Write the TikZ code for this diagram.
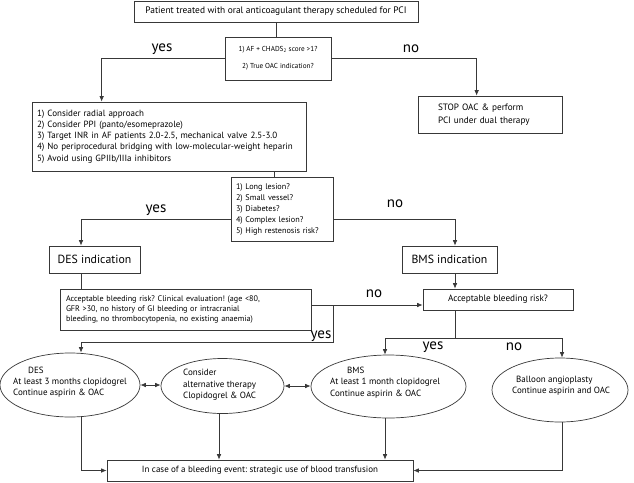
\documentclass[tikz,border=0pt]{standalone}
\usepackage{fontspec}
\setmainfont{PT Sans}
\usetikzlibrary{arrows.meta,shapes.geometric,calc}
\definecolor{lc}{gray}{0.22}
\frenchspacing
\begin{document}
\begin{tikzpicture}[x=1pt,y=-1pt]
\tikzset{
 bx/.style={draw=lc, line width=0.7pt, rectangle, inner ysep=0pt},
 ln/.style={draw=lc, line width=0.7pt},
 ar/.style={ln, -{Latex[length=5.5pt,width=4.5pt]}},
 dar/.style={ln, {Latex[length=5.5pt,width=4.5pt]}-{Latex[length=5.5pt,width=4.5pt]}},
 ell/.style={draw=lc, line width=0.7pt, ellipse, inner sep=0pt},
 lab/.style={inner sep=0pt, font=\fontsize{15}{16}\selectfont},
 etx/.style={anchor=west, align=left, inner sep=0pt, font=\fontsize{9}{11.3}\selectfont},
}
\useasboundingbox (0,0) rectangle (634,482);

\node[bx, minimum width=284pt, minimum height=21pt, font=\fontsize{9.4}{10}\selectfont] (top) at (276,11.5) {Patient treated with oral anticoagulant therapy scheduled for PCI};
\node[bx, minimum width=106pt, minimum height=43pt, align=center, font=\fontsize{7.2}{17}\selectfont] (q1) at (278,58.5) {1) AF + CHADS\textsubscript{2} score >1?\\2) True OAC indication?};
\node[bx, minimum width=274pt, minimum height=69pt, text width=264pt, inner xsep=5pt, align=left, font=\fontsize{9}{11.2}\selectfont] (list) at (169,136.5) {1) Consider radial approach\\2) Consider PPI (panto/esomeprazole)\\3) Target INR in AF patients 2.0-2.5, mechanical valve 2.5-3.0\\4) No periprocedural bridging with low-molecular-weight heparin\\5) Avoid using GPIIb/IIIa inhibitors};
\node[bx, minimum width=144pt, minimum height=37pt, text width=104pt, inner xsep=20pt, align=left, font=\fontsize{9.2}{13}\selectfont] (stop) at (490,114.5) {STOP OAC \& perform\\PCI under dual therapy};
\node[bx, minimum width=102pt, minimum height=64pt, text width=92pt, inner xsep=5pt, align=left, font=\fontsize{8.2}{11}\selectfont] (q2) at (282,209) {1) Long lesion?\\2) Small vessel?\\3) Diabetes?\\4) Complex lesion?\\5) High restenosis risk?};
\node[bx, minimum width=91pt, minimum height=27pt, font=\fontsize{11.8}{12}\selectfont] (desb) at (94.5,259.5) {DES indication};
\node[bx, minimum width=95pt, minimum height=27pt, font=\fontsize{11.8}{12}\selectfont] (bmsb) at (449.5,259.5) {BMS indication};
\node[bx, minimum width=251pt, minimum height=41pt, text width=239pt, inner xsep=6pt, align=left, font=\fontsize{8.1}{9.8}\selectfont] (bleed) at (185.5,309.5) {Acceptable bleeding risk? Clinical evaluation! (age <80,\\GFR >30, no history of GI bleeding or intracranial\\bleeding, no thrombocytopenia, no existing anaemia)};
\node[bx, minimum width=150pt, minimum height=21pt, font=\fontsize{9.2}{10}\selectfont] (acc) at (498,299.5) {Acceptable bleeding risk?};
\node[bx, minimum width=306pt, minimum height=21pt, font=\fontsize{9}{10}\selectfont] (bot) at (260,470.5) {In case of a bleeding event: strategic use of blood transfusion};

\node[ell, minimum width=140pt, minimum height=64pt] (desell) at (70,385) {};
\node[ell, minimum width=123pt, minimum height=55pt] (conell) at (222.5,386) {};
\node[ell, minimum width=155pt, minimum height=63pt] (bmsell) at (388.5,386.5) {};
\node[ell, minimum width=136pt, minimum height=64pt] (balell) at (560,390) {};
\node[etx] (destx) at (13,382) {\hspace*{15pt}DES\\At least 3 months clopidogrel\\Continue aspirin \& OAC};
\node[etx] (contx) at (183,385) {Consider\\alternative therapy\\Clopidogrel \& OAC};
\node[etx] (bmstx) at (330,382.5) {\hspace*{17pt}BMS\\At least 1 month clopidogrel\\Continue aspirin \& OAC};
\node[etx] (baltx) at (512,386) {\hspace*{4pt}Balloon angioplasty\\Continue aspirin and OAC};

% connectors
\draw[ln] (top.south) -- (top.south |- q1.north);
\coordinate (listin) at ([xshift=70pt]list.north west);
\draw[ar] (q1.west) -| (listin);
\coordinate (stopin) at ([xshift=59pt]stop.north west);
\draw[ar] (q1.east) -| (stopin);
\coordinate (q2in) at ([xshift=-8pt]q2.north);
\draw[ln] (q2in |- list.south) -- (q2in);
\coordinate (q2l) at ([yshift=-10pt]q2.west);
\coordinate (q2r) at ([yshift=-10pt]q2.east);
\coordinate (desbin) at ([xshift=-13.5pt]desb.north);
\draw[ar] (q2l) -| (desbin);
\coordinate (bmsbin) at ([xshift=5.5pt]bmsb.north);
\draw[ar] (q2r) -| (bmsbin);
\draw[ln] (desbin |- desb.south) -- (desbin |- bleed.north);
\coordinate (accbin) at ([xshift=-43pt]acc.north);
\draw[ar] (bmsbin |- bmsb.south) -- (accbin);
\coordinate (accin) at ([yshift=-5.5pt]acc.west);
\draw[ar] (accin -| bleed.east) -- (accin);
\coordinate (yb) at (333,305);
\coordinate (ybend) at (333,342);
\coordinate (desin) at ([xshift=11pt]desell.north);
\draw[ar] (yb) -- (ybend) -| (desin);
\coordinate (accout) at (accbin |- acc.south);
\coordinate (split) at (455,338);
\draw[ln] (accout) -- (split);
\coordinate (bmsin) at ([xshift=-3.5pt]bmsell.north);
\coordinate (balin) at ([xshift=2pt]balell.north);
\draw[ar] (split) -| (bmsin);
\draw[ar] (split) -| (balin);
\draw[dar] (desell.east) -- (desell.east -| conell.west);
\draw[dar] (conell.east) -- (conell.east -| bmsell.west);
\coordinate (desout) at ([xshift=11pt]desell.south);
\draw[ar] (desout) |- (bot.west);
\coordinate (conout) at ([xshift=-3.5pt]conell.south);
\draw[ar] (conout) -- (conout |- bot.north);
\coordinate (bmsout) at ([xshift=-3.5pt]bmsell.south);
\draw[ar] (bmsout) -- (bmsout |- bot.north);
\coordinate (balout) at ([xshift=2pt]balell.south);
\draw[ar] (balout) |- (bot.east);

% labels
\node[lab] (l1) at (162,49) {yes};
\node[lab] (l2) at (411,49) {no};
\node[lab] (l3) at (156,210) {yes};
\node[lab] (l4) at (395,204) {no};
\node[lab] (l5) at (374,294) {no};
\node[lab] (l6) at (321,336) {yes};
\node[lab] (l7) at (433,347) {yes};
\node[lab] (l8) at (514,347) {no};
\end{tikzpicture}
\end{document}
